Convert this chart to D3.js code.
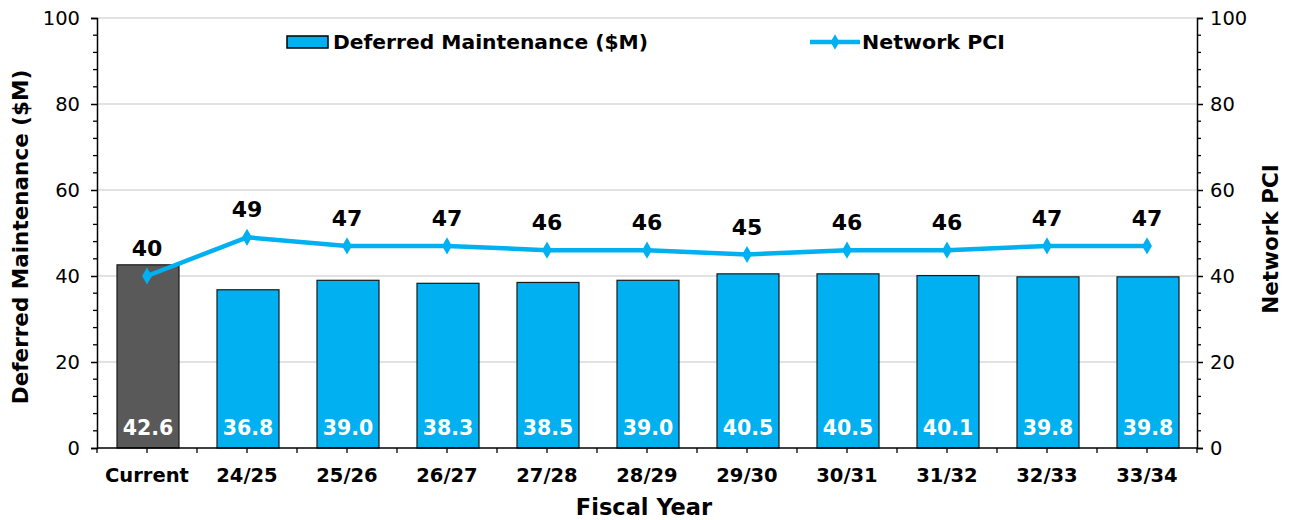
<!DOCTYPE html>
<html><head><meta charset="utf-8">
<script src="https://cdn.jsdelivr.net/npm/d3@7"></script>
<style>body{margin:0;background:#fff}svg{display:block;font-family:"DejaVu Sans",Verdana,sans-serif}</style>
</head><body>
<svg id="c" width="1295" height="520"></svg>
<script>
const categories = ["Current","24/25","25/26","26/27","27/28","28/29","29/30","30/31","31/32","32/33","33/34"];
const deferred = [42.6,36.8,39.0,38.3,38.5,39.0,40.5,40.5,40.1,39.8,39.8];
const pci = [40,49,47,47,46,46,45,46,46,47,47];
const yTicks = [0,20,40,60,80,100];

const svg = d3.select("#c");
const m = {l:97, r:1197, t:18, b:448};
const x = d3.scaleBand().domain(categories).range([m.l, m.r]).paddingInner(0.38).paddingOuter(0.19);
const xc = d3.scaleBand().domain(categories).range([m.l, m.r]);
const yL = d3.scaleLinear().domain([0,100]).range([m.b, m.t]);
const yR = d3.scaleLinear().domain([0,100]).range([m.b, m.t]);

// gridlines
svg.append("g").selectAll("line").data(yTicks.filter(d=>d>0)).join("line")
  .attr("x1", m.l).attr("x2", m.r).attr("y1", d=>yL(d)).attr("y2", d=>yL(d))
  .attr("stroke", "#d9d9d9").attr("stroke-width", 1.3);

// bars
svg.append("g").selectAll("rect").data(deferred).join("rect")
  .attr("x", (d,i)=>x(categories[i])+1).attr("width", x.bandwidth())
  .attr("y", d=>yL(d)).attr("height", d=>yL(0)-yL(d))
  .attr("fill", (d,i)=> i===0 ? "#595959" : "#00B0F0")
  .attr("stroke", "#1a1a1a").attr("stroke-width", 1.2);

// bar labels
svg.append("g").selectAll("text").data(deferred).join("text")
  .attr("x", (d,i)=>x(categories[i]) + 1 + x.bandwidth()/2).attr("y", yL(0) - 13)
  .attr("text-anchor", "middle").attr("fill", "#fff").attr("font-weight", "bold").attr("font-size", 20.5)
  .text(d=>d.toFixed(1));

// axes
const minor = d3.range(0, 101, 4);
function yAxis(scale, side) {
  const g = svg.append("g").attr("transform", `translate(${side==="left"?m.l:m.r},0)`);
  const ax = (side==="left"?d3.axisLeft(scale):d3.axisRight(scale)).tickValues(yTicks).tickSize(6).tickPadding(side==="left"?11:7).tickFormat(d3.format("d"));
  g.call(ax);
  g.select(".domain").attr("stroke", "#000").attr("stroke-width", 1.5);
  g.selectAll(".tick line").attr("stroke", "#000").attr("stroke-width", 1.5);
  g.selectAll("text").attr("font-size", 19.5).attr("fill", "#000").attr("font-family", '"DejaVu Sans",Verdana,sans-serif');
  g.selectAll(".minor").data(minor.filter(d=>d%20!==0)).join("line").attr("class","minor")
    .attr("x1", 0).attr("x2", side==="left"?-4:4).attr("y1", d=>scale(d)).attr("y2", d=>scale(d))
    .attr("stroke", "#000").attr("stroke-width", 1.3);
}
yAxis(yL, "left");
yAxis(yR, "right");

// x axis
const gx = svg.append("g").attr("transform", `translate(0,${m.b})`);
gx.append("line").attr("x1", m.l).attr("x2", m.r).attr("stroke", "#000").attr("stroke-width", 1.5);
const halfTicks = d3.range(0, categories.length*2+1).map(i => m.l + i*xc.bandwidth()/2);
gx.selectAll(".t").data(halfTicks).join("line").attr("class","t")
  .attr("x1", d=>d).attr("x2", d=>d).attr("y1", 0).attr("y2", 5).attr("stroke", "#000").attr("stroke-width", 1.3);
gx.selectAll("text").data(categories).join("text")
  .attr("x", d=>xc(d)+xc.bandwidth()/2).attr("y", 34)
  .attr("text-anchor", "middle").attr("font-weight", "bold").attr("font-size", 19.5).text(d=>d);

// line
const line = d3.line().x((d,i)=>xc(categories[i])+xc.bandwidth()/2).y(d=>yR(d));
svg.append("path").datum(pci).attr("d", line).attr("fill", "none").attr("stroke", "#00B0F0").attr("stroke-width", 4.5).attr("stroke-linejoin","round");
svg.append("g").selectAll("path").data(pci).join("path")
  .attr("transform", (d,i)=>`translate(${xc(categories[i])+xc.bandwidth()/2},${yR(d)})`)
  .attr("d", d3.symbol(d3.symbolDiamond, 85)).attr("fill", "#00B0F0");
svg.append("g").selectAll("text").data(pci).join("text")
  .attr("x", (d,i)=>xc(categories[i])+xc.bandwidth()/2).attr("y", d=>yR(d)-20)
  .attr("text-anchor", "middle").attr("font-weight", "bold").attr("font-size", 22).text(d=>d);

// axis titles
svg.append("text").attr("transform", `translate(28,237) rotate(-90)`).attr("text-anchor","middle")
  .attr("font-weight","bold").attr("font-size", 21.5).text("Deferred Maintenance ($M)");
svg.append("text").attr("transform", `translate(1278,239) rotate(-90)`).attr("text-anchor","middle")
  .attr("font-weight","bold").attr("font-size", 21.5).text("Network PCI");
svg.append("text").attr("x", 644).attr("y", 515).attr("text-anchor","middle")
  .attr("font-weight","bold").attr("font-size", 22.5).text("Fiscal Year");

// legend
const lg = svg.append("g");
lg.append("rect").attr("x", 287).attr("y", 36).attr("width", 41).attr("height", 12).attr("fill","#00B0F0").attr("stroke","#000").attr("stroke-width",1.5);
lg.append("text").attr("x", 333).attr("y", 49).attr("font-weight","bold").attr("font-size", 19)
  .attr("textLength", 315).attr("lengthAdjust","spacingAndGlyphs").text("Deferred Maintenance ($M)");
lg.append("line").attr("x1", 810).attr("x2", 860).attr("y1", 42).attr("y2", 42).attr("stroke","#00B0F0").attr("stroke-width",4.5);
lg.append("path").attr("transform","translate(835,42)").attr("d", d3.symbol(d3.symbolDiamond, 70)).attr("fill","#00B0F0");
lg.append("text").attr("x", 862).attr("y", 49).attr("font-weight","bold").attr("font-size", 19)
  .attr("textLength", 143).attr("lengthAdjust","spacingAndGlyphs").text("Network PCI");
</script>
</body></html>
